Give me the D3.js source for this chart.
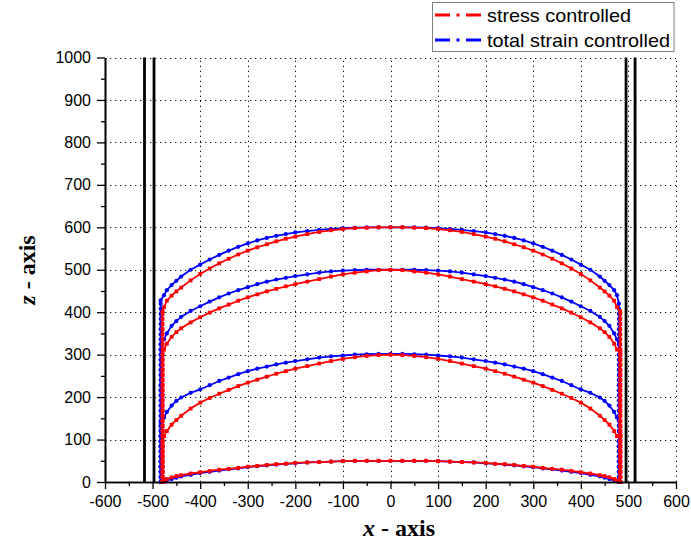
<!DOCTYPE html>
<html>
<head>
<meta charset="utf-8">
<script src="https://cdn.jsdelivr.net/npm/d3@7/dist/d3.min.js"></script>
<style>
  html, body { margin: 0; padding: 0; background: #fff; }
  svg { display: block; }
</style>
</head>
<body>
<svg id="chart" width="691" height="553"></svg>
<script>
// Axis ticks
const xTicks = [-600,-500,-400,-300,-200,-100,0,100,200,300,400,500,600];
const xMinor = [-550,-450,-350,-250,-150,-50,50,150,250,350,450,550];
const yTicks = [0,100,200,300,400,500,600,700,800,900,1000];
const yMinor = [50,150,250,350,450,550,650,750,850,950];

// Vertical wall positions (x)
const wallX = [-517, -497, 495, 514];

// Shared x positions of the arc samples
const arcX = [-476,-470,-460,-450,-440,-420,-400,-380,-360,-340,-320,-300,-280,-260,-240,-220,-200,-175,-150,-125,-100,-75,-50,-25,
  0,
  25,50,75,100,125,150,175,200,220,240,260,280,300,320,340,360,380,400,420,440,450,460,470,476];

// z levels of the samples along the vertical flanks
const riseZ = [0,12,24,36,48,60,72,84,96,108,120,132,144,156,168,180,192,204,216,228,240,252,264,276,288,300,312,324,336,348,360,372,384,396,408,420];

// Arc heights, stress controlled (red) and total strain controlled (blue)
const blue600 = [440,452,464,474,484,500,512,524,535,545,554,562,569,575,580,584,588,591,594,596,598,599,600,600,
  600,
  600,600,599,598,596,594,591,588,584,580,575,569,562,554,545,535,524,512,500,484,474,464,452,440];
const red600 = [412,427,439,449,458,475,490,503,515,526,536,545,553,560,567,573,578,584,589,593,596,598,599,600,
  600,
  600,599,598,596,593,589,584,578,573,567,560,553,545,536,526,515,503,490,475,458,449,439,427,412];
const blue500 = [336,350,368,379,389,403,414,425,435,444,452,459,466,472,477,481,485,489,493,496,498,499,500,500,
  500,
  500,500,499,498,496,493,489,485,481,477,472,466,459,452,444,435,425,414,403,389,379,368,350,336];
const red500 = [312,326,342,353,362,376,388,399,409,418,427,435,442,449,455,461,466,472,478,484,489,493,496,499,
  500,
  499,496,493,489,484,478,472,466,461,455,449,442,435,427,418,409,399,388,376,362,353,342,326,312];
const blue300 = [152,165,180,191,199,210,218,228,238,246,254,261,267,272,277,281,285,289,293,296,298,300,301,302,
  302,
  302,301,300,298,296,293,289,285,281,277,272,267,261,254,246,238,228,218,210,199,191,180,165,152];
const red300 = [108,120,135,146,156,173,187,198,208,217,226,234,241,248,255,261,267,273,279,285,290,294,297,299,
  300,
  299,297,294,290,285,279,273,267,261,255,248,241,234,226,217,208,198,187,173,156,146,135,120,108];
const blue50 = [2,4,7,10,13,17,21,24,27,30,32,35,37,39,41,43,44,46,47,48,49,50,50,50,
  50,
  50,50,50,49,48,47,46,44,43,41,39,37,35,32,30,27,24,21,17,13,10,7,4,2];
const red50 = [4,7,11,14,16,20,23,26,29,31,33,36,38,40,42,43,45,46,47,48,49,50,50,50,
  50,
  50,50,50,49,48,47,46,45,43,42,40,38,36,33,31,29,26,23,20,16,14,11,7,4];

// Top of the vertical flank on each side [left, right]
const blueEdges = { h600: [428, 420], h500: [325, 330], h300: [140, 145], h50: [0, 0] };
const redEdges  = { h600: [402, 402], h500: [300, 305], h300: [95, 110], h50: [0, 0] };
// x of the vertical flanks [left, right]
const blueFlankX = [-483, 480];
const redFlankX  = [-479, 483];

const legendItems = ["stress controlled", "total strain controlled"];
const RED = "#ff0000", BLUE = "#0000ff";

const svg = d3.select("#chart");
const x = d3.scaleLinear().domain([-600, 600]).range([105, 676]);
const y = d3.scaleLinear().domain([0, 1000]).range([482, 57.5]);

// dotted grid
const grid = svg.append("g").attr("stroke", "#111").attr("stroke-width", 1)
  .attr("stroke-dasharray", "1.3,3.7").attr("fill", "none");
grid.selectAll("line.gx").data(xTicks.filter(d => d !== -600)).join("line")
  .attr("class", "gx")
  .attr("x1", d => Math.round(x(d)) + 0.5).attr("x2", d => Math.round(x(d)) + 0.5)
  .attr("y1", y(0)).attr("y2", y(1000));
grid.selectAll("line.gy").data(yTicks.filter(d => d !== 0)).join("line")
  .attr("class", "gy")
  .attr("y1", d => Math.round(y(d)) + 0.5).attr("y2", d => Math.round(y(d)) + 0.5)
  .attr("x1", x(-600)).attr("x2", x(600));

// walls
svg.append("g").selectAll("line").data(wallX).join("line")
  .attr("x1", d => x(d)).attr("x2", d => x(d))
  .attr("y1", y(0)).attr("y2", y(1000))
  .attr("stroke", "#000").attr("stroke-width", 2.8);

// build the sample list for one profile
function profile(zs, edges, flankX) {
  const pts = [];
  riseZ.filter(z => z < edges[0]).forEach(z => pts.push([flankX[0], z]));
  pts.push([flankX[0], edges[0]]);
  arcX.forEach((xx, i) => pts.push([xx, zs[i]]));
  pts.push([flankX[1], edges[1]]);
  riseZ.filter(z => z < edges[1]).reverse().forEach(z => pts.push([flankX[1], z]));
  return pts;
}

const series = [
  { color: BLUE, shape: "circle", pts: profile(blue50, blueEdges.h50, blueFlankX) },
  { color: BLUE, shape: "circle", pts: profile(blue300, blueEdges.h300, blueFlankX) },
  { color: BLUE, shape: "circle", pts: profile(blue500, blueEdges.h500, blueFlankX) },
  { color: BLUE, shape: "circle", pts: profile(blue600, blueEdges.h600, blueFlankX) },
  { color: RED, shape: "square", pts: profile(red50, redEdges.h50, redFlankX) },
  { color: RED, shape: "square", pts: profile(red300, redEdges.h300, redFlankX) },
  { color: RED, shape: "square", pts: profile(red500, redEdges.h500, redFlankX) },
  { color: RED, shape: "square", pts: profile(red600, redEdges.h600, redFlankX) }
];

const line = d3.line().x(d => x(d[0])).y(d => y(d[1]));
const curves = svg.append("g");
series.forEach(s => {
  const g = curves.append("g");
  g.append("path").attr("d", line(s.pts)).attr("fill", "none")
    .attr("stroke", s.color).attr("stroke-width", 1.8);
  if (s.shape === "circle") {
    g.selectAll("circle").data(s.pts).join("circle")
      .attr("cx", d => x(d[0])).attr("cy", d => y(d[1])).attr("r", 2.1)
      .attr("fill", s.color);
  } else {
    g.selectAll("rect").data(s.pts).join("rect")
      .attr("x", d => x(d[0]) - 1.9).attr("y", d => y(d[1]) - 1.9)
      .attr("width", 3.8).attr("height", 3.8).attr("fill", s.color);
  }
});

// axes
const font = "'Liberation Sans', Arial, sans-serif";
const fmt = d => String(d);
svg.append("g").attr("transform", `translate(${x(-600)},0)`)
  .call(d3.axisLeft(y).tickValues(yTicks).tickFormat(fmt).tickSize(8).tickSizeOuter(0).tickPadding(6));
svg.append("g").attr("transform", `translate(${x(-600)},0)`)
  .call(d3.axisLeft(y).tickValues(yMinor).tickSize(4).tickSizeOuter(0).tickFormat(""));
svg.append("g").attr("transform", `translate(0,${y(0)})`)
  .call(d3.axisBottom(x).tickValues(xTicks).tickFormat(fmt).tickSize(7).tickSizeOuter(0).tickPadding(7));
svg.append("g").attr("transform", `translate(0,${y(0)})`)
  .call(d3.axisBottom(x).tickValues(xMinor).tickSize(4).tickSizeOuter(0).tickFormat(""));
svg.selectAll(".domain").attr("stroke", "#000").attr("stroke-width", 1.6);
svg.selectAll(".tick line").attr("stroke", "#000").attr("stroke-width", 1.3);
svg.selectAll(".tick text").attr("font-family", font).attr("font-size", 16).attr("fill", "#000");

// axis titles
const serif = "'Liberation Serif', 'Times New Roman', serif";
const title = svg.append("text").attr("x", 399).attr("y", 536)
  .attr("text-anchor", "middle").attr("font-family", serif)
  .attr("font-weight", "bold").attr("font-size", 24);
title.append("tspan").attr("font-style", "italic").text("x");
title.append("tspan").text(" - axis");

const ytitle = svg.append("text").attr("transform", "translate(35,270) rotate(-90)")
  .attr("text-anchor", "middle").attr("font-family", serif)
  .attr("font-weight", "bold").attr("font-size", 24);
ytitle.append("tspan").attr("font-style", "italic").text("z");
ytitle.append("tspan").text(" - axis");

// legend
const lg = svg.append("g");
lg.append("rect").attr("x", 432.5).attr("y", 2.5).attr("width", 241.5).attr("height", 49)
  .attr("fill", "#fff").attr("stroke", "#808080").attr("stroke-width", 1);
const legendColors = [RED, BLUE];
const legendWidths = [144, 183];
legendItems.forEach((label, i) => {
  const ly = 15 + i * 25;
  lg.append("line").attr("x1", 435).attr("x2", 482).attr("y1", ly).attr("y2", ly)
    .attr("stroke", legendColors[i]).attr("stroke-width", 3)
    .attr("stroke-dasharray", "15,6.5,3,6.5");
  lg.append("text").attr("x", 487).attr("y", ly + 6.5)
    .attr("font-family", font).attr("font-size", 19)
    .attr("textLength", legendWidths[i]).attr("lengthAdjust", "spacingAndGlyphs")
    .text(label);
});
</script>
</body>
</html>
